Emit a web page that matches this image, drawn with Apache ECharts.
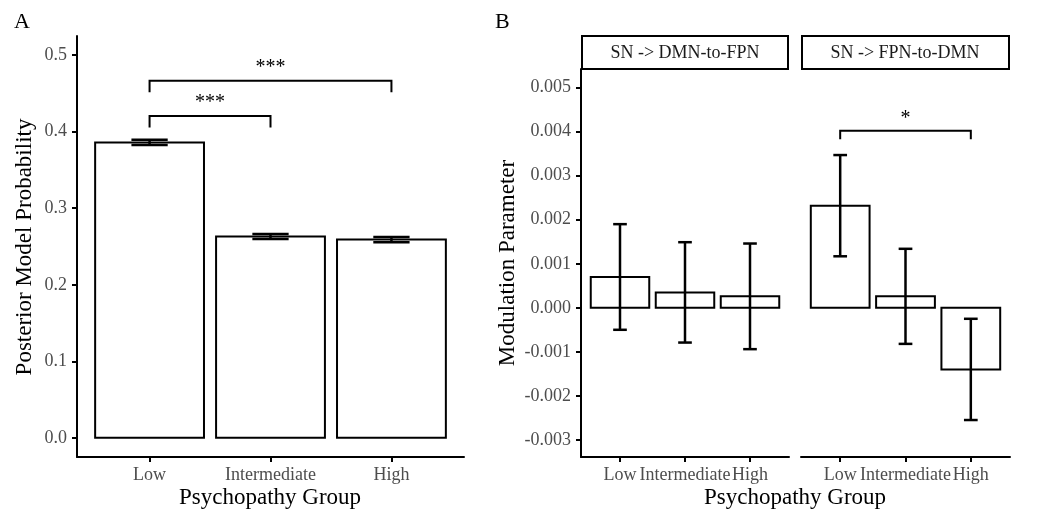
<!DOCTYPE html>
<html>
<head>
<meta charset="utf-8">
<script src="https://cdn.jsdelivr.net/npm/echarts@6/dist/echarts.min.js"></script>
<style>
html,body{margin:0;padding:0;background:#fff;}
#chart{width:1050px;height:524px;}
</style>
</head>
<body>
<div id="chart"></div>
<script>
// ---------- data ----------
const groups = ['Low', 'Intermediate', 'High'];
const probMean = [0.386, 0.263, 0.259];
const probSE = [0.0033, 0.0033, 0.0033];
const yTicksA = [0, 0.1, 0.2, 0.3, 0.4, 0.5];
const yTicksB = [-0.003, -0.002, -0.001, 0, 0.001, 0.002, 0.003, 0.004, 0.005];
const facetNames = ['SN -> DMN-to-FPN', 'SN -> FPN-to-DMN'];
const dmnFpnMean = [0.0007, 0.00035, 0.00026];
const dmnFpnSE = [0.0012, 0.00114, 0.0012];
const fpnDmnMean = [0.00232, 0.00026, -0.0014];
const fpnDmnSE = [0.00115, 0.00108, 0.00115];
const sigPairsA = [[0, 1], [0, 2]];
const sigLabelsA = ['***', '***'];
const sigYA = [0.4204, 0.4665];
const sigTipA = 0.015;
const sigPairsB = [[0, 2]];
const sigLabelsB = ['*'];
const sigYB = [0.00402];
const sigTipB = 0.00019;

// ---------- helpers ----------
const FONT = '"Liberation Serif", "DejaVu Serif", serif';
const xPos = groups.map((g, i) => i + 1);

function barRender(params, api) {
  const x = api.value(0), y = api.value(1);
  const p1 = api.coord([x - 0.45, y]);
  const p2 = api.coord([x + 0.45, 0]);
  return {
    type: 'rect',
    shape: {x: Math.min(p1[0], p2[0]), y: Math.min(p1[1], p2[1]),
            width: Math.abs(p2[0] - p1[0]), height: Math.abs(p2[1] - p1[1])},
    style: {fill: '#fff', stroke: '#000', lineWidth: 2}
  };
}
function errRender(halfW) {
  return function (params, api) {
    const x = api.value(0), lo = api.value(1), hi = api.value(2);
    const a = api.coord([x, lo]), b = api.coord([x, hi]);
    const l = api.coord([x - halfW, lo])[0], r = api.coord([x + halfW, lo])[0];
    const st = {stroke: '#000', lineWidth: 2.5, fill: null};
    return {type: 'group', children: [
      {type: 'line', shape: {x1: a[0], y1: a[1], x2: b[0], y2: b[1]}, style: st},
      {type: 'line', shape: {x1: l, y1: a[1], x2: r, y2: a[1]}, style: st},
      {type: 'line', shape: {x1: l, y1: b[1], x2: r, y2: b[1]}, style: st}
    ]};
  };
}
function sigRender(labels, tip, fontSize, gap) {
  return function (params, api) {
    const x1 = api.value(0), x2 = api.value(1), y = api.value(2);
    const p1 = api.coord([x1, y]), p2 = api.coord([x2, y]);
    const t1 = api.coord([x1, y - tip]), t2 = api.coord([x2, y - tip]);
    return {type: 'group', children: [
      {type: 'polyline', shape: {points: [t1, p1, p2, t2]},
       style: {stroke: '#000', lineWidth: 2, fill: null}},
      {type: 'text', style: {text: labels[params.dataIndex], x: (p1[0] + p2[0]) / 2, y: p1[1] - gap,
        textAlign: 'center', textVerticalAlign: 'bottom', font: fontSize + 'px ' + FONT, fill: '#000'}}
    ]};
  };
}
function errData(mean, se) { return mean.map((m, i) => [xPos[i], m - se[i], m + se[i]]); }
function barData(mean) { return mean.map((m, i) => [xPos[i], m]); }
function sigData(pairs, ys) { return pairs.map((p, i) => [xPos[p[0]], xPos[p[1]], ys[i]]); }

const tickLabelStyle = {color: '#4d4d4d', fontFamily: FONT, fontSize: 18};

function xAxisDef(gridIndex) {
  return {
    type: 'value', gridIndex: gridIndex, min: 0.4, max: 3.6,
    splitLine: {show: false},
    axisLine: {show: true, onZero: false, lineStyle: {color: '#000', width: 2}},
    axisTick: {show: true, length: 5, lineStyle: {color: '#000', width: 2}, customValues: xPos},
    axisLabel: Object.assign({margin: 9, customValues: xPos,
      formatter: v => groups[Math.round(v) - 1]}, tickLabelStyle)
  };
}
function yAxisDef(gridIndex, min, max, ticks, digits, show) {
  return {
    type: 'value', gridIndex: gridIndex, min: min, max: max,
    splitLine: {show: false},
    axisLine: {show: show, lineStyle: {color: '#000', width: 2}},
    axisTick: {show: show, length: 5, lineStyle: {color: '#000', width: 2}, customValues: ticks},
    axisLabel: Object.assign({show: show, margin: 10, customValues: ticks,
      formatter: v => v.toFixed(digits)}, tickLabelStyle)
  };
}

const chart = echarts.init(document.getElementById('chart'), null, {renderer: 'canvas'});
const titleStyle = {font: '23px ' + FONT, fill: '#000'};

chart.setOption({
  animation: false,
  backgroundColor: '#fff',
  grid: [
    {left: 77, top: 36, width: 387, height: 421},
    {left: 581, top: 69, width: 208, height: 388},
    {left: 801, top: 69, width: 209, height: 388}
  ],
  xAxis: [xAxisDef(0), xAxisDef(1), xAxisDef(2)],
  yAxis: [
    yAxisDef(0, -0.025, 0.525, yTicksA, 1, true),
    yAxisDef(1, -0.00339, 0.005425, yTicksB, 3, true),
    yAxisDef(2, -0.00339, 0.005425, yTicksB, 3, false)
  ],
  graphic: [
    {type: 'text', left: 14, top: 11, style: {text: 'A', font: '22px ' + FONT, fill: '#000'}},
    {type: 'text', left: 495, top: 11, style: {text: 'B', font: '22px ' + FONT, fill: '#000'}},
    {type: 'rect', shape: {x: 582, y: 36, width: 206, height: 33}, style: {fill: '#fff', stroke: '#000', lineWidth: 2}},
    {type: 'rect', shape: {x: 802, y: 36, width: 207, height: 33}, style: {fill: '#fff', stroke: '#000', lineWidth: 2}},
    {type: 'text', x: 685, y: 53, style: {text: facetNames[0], font: '18px ' + FONT, fill: '#1a1a1a', textAlign: 'center', textVerticalAlign: 'middle'}},
    {type: 'text', x: 905, y: 53, style: {text: facetNames[1], font: '18px ' + FONT, fill: '#1a1a1a', textAlign: 'center', textVerticalAlign: 'middle'}},
    {type: 'text', x: 270, y: 498, style: Object.assign({text: 'Psychopathy Group', textAlign: 'center', textVerticalAlign: 'middle'}, titleStyle)},
    {type: 'text', x: 795, y: 498, style: Object.assign({text: 'Psychopathy Group', textAlign: 'center', textVerticalAlign: 'middle'}, titleStyle)},
    {type: 'text', x: 25, y: 247, rotation: Math.PI / 2, style: Object.assign({text: 'Posterior Model Probability', textAlign: 'center', textVerticalAlign: 'middle'}, titleStyle)},
    {type: 'text', x: 508, y: 263, rotation: Math.PI / 2, style: Object.assign({text: 'Modulation Parameter', textAlign: 'center', textVerticalAlign: 'middle'}, titleStyle)}
  ],
  series: [
    {type: 'custom', xAxisIndex: 0, yAxisIndex: 0, renderItem: barRender, data: barData(probMean)},
    {type: 'custom', xAxisIndex: 0, yAxisIndex: 0, renderItem: errRender(0.15), data: errData(probMean, probSE)},
    {type: 'custom', xAxisIndex: 0, yAxisIndex: 0, renderItem: sigRender(sigLabelsA, sigTipA, 20, 3), data: sigData(sigPairsA, sigYA)},
    {type: 'custom', xAxisIndex: 1, yAxisIndex: 1, renderItem: barRender, data: barData(dmnFpnMean)},
    {type: 'custom', xAxisIndex: 1, yAxisIndex: 1, renderItem: errRender(0.105), data: errData(dmnFpnMean, dmnFpnSE)},
    {type: 'custom', xAxisIndex: 2, yAxisIndex: 2, renderItem: barRender, data: barData(fpnDmnMean)},
    {type: 'custom', xAxisIndex: 2, yAxisIndex: 2, renderItem: errRender(0.105), data: errData(fpnDmnMean, fpnDmnSE)},
    {type: 'custom', xAxisIndex: 2, yAxisIndex: 2, renderItem: sigRender(sigLabelsB, sigTipB, 20, 2), data: sigData(sigPairsB, sigYB)}
  ]
});
</script>
</body>
</html>
